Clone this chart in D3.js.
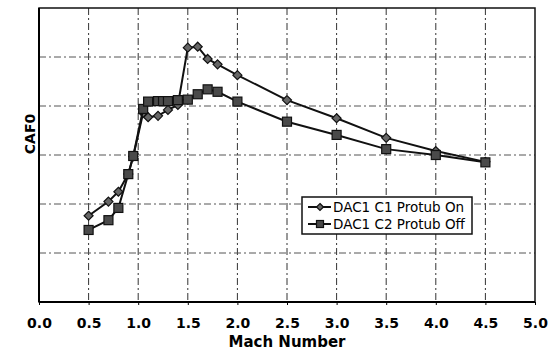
<!DOCTYPE html>
<html>
<head>
<meta charset="utf-8">
<script src="https://cdn.jsdelivr.net/npm/d3@7"></script>
<style>
  body { margin: 0; background: #fff; }
  svg { display: block; }
</style>
</head>
<body>
<svg id="chart" width="551" height="352"></svg>
<script>
// Mach numbers and CAF0 values (y axis has no labels, 0..6 arbitrary units)
let machOn = [0.5, 0.7, 0.8, 0.9, 0.95, 1.05, 1.1, 1.2, 1.3, 1.4, 1.5, 1.6, 1.7, 1.8, 2.0, 2.5, 3.0, 3.5, 4.0, 4.5];
let cafOn  = [1.76, 2.05, 2.25, 2.61, 2.97, 3.86, 3.77, 3.80, 3.92, 4.02, 5.19, 5.21, 4.96, 4.85, 4.63, 4.12, 3.75, 3.35, 3.08, 2.86];

let machOff = [0.5, 0.7, 0.8, 0.9, 0.95, 1.05, 1.1, 1.2, 1.25, 1.3, 1.4, 1.5, 1.6, 1.7, 1.8, 2.0, 2.5, 3.0, 3.5, 4.0, 4.5];
let cafOff  = [1.47, 1.67, 1.92, 2.61, 2.98, 3.94, 4.09, 4.10, 4.10, 4.10, 4.12, 4.13, 4.24, 4.34, 4.29, 4.09, 3.68, 3.41, 3.12, 3.00, 2.85];

let xTicks = [0, 0.5, 1, 1.5, 2, 2.5, 3, 3.5, 4, 4.5, 5];
let yGrid = [1, 2, 3, 4, 5];
let seriesNames = ["DAC1 C1 Protub On", "DAC1 C2 Protub Off"];

let svg = d3.select("#chart");
let plotLeft = 39, plotRight = 535, plotTop = 8, plotBottom = 302;

let x = d3.scaleLinear().domain([0, 5]).range([plotLeft, plotRight]);
let y = d3.scaleLinear().domain([0, 6]).range([plotBottom, plotTop]);

let font = "'DejaVu Sans', Verdana, sans-serif";

// grid lines (dash-dot)
svg.append("g")
  .selectAll("line.vgrid")
  .data(xTicks.filter(d => d > 0 && d < 5))
  .enter().append("line")
    .attr("class", "vgrid")
    .attr("x1", d => x(d)).attr("x2", d => x(d))
    .attr("y1", plotTop).attr("y2", plotBottom)
    .style("stroke", "#333")
    .style("stroke-width", 1)
    .style("stroke-dasharray", "7,3,2,3");

svg.append("g")
  .selectAll("line.hgrid")
  .data(yGrid)
  .enter().append("line")
    .attr("class", "hgrid")
    .attr("x1", plotLeft).attr("x2", plotRight)
    .attr("y1", d => y(d)).attr("y2", d => y(d))
    .style("stroke", "#555")
    .style("stroke-width", 1)
    .style("stroke-dasharray", "7,3,2,3");

// plot frame
svg.append("rect")
  .attr("x", plotLeft).attr("y", plotTop)
  .attr("width", plotRight - plotLeft).attr("height", plotBottom - plotTop)
  .style("fill", "none")
  .style("stroke", "#111")
  .style("stroke-width", 1.5);

svg.append("line")
  .attr("x1", plotLeft).attr("x2", plotLeft).attr("y1", plotTop).attr("y2", plotBottom)
  .style("stroke", "#000").style("stroke-width", 2);
svg.append("line")
  .attr("x1", plotLeft).attr("x2", plotRight).attr("y1", plotBottom).attr("y2", plotBottom)
  .style("stroke", "#000").style("stroke-width", 2);

// x axis labels
let xAxis = d3.axisBottom(x)
  .tickValues(xTicks)
  .tickSize(3)
  .tickFormat(d3.format(".1f"));

let gx = svg.append("g")
  .attr("transform", "translate(0," + plotBottom + ")")
  .call(xAxis);
gx.select(".domain").remove();
gx.selectAll("line").style("stroke", "#000");
gx.selectAll("text")
  .attr("y", 26)
  .attr("dy", 0)
  .style("font-family", font)
  .style("font-weight", "bold")
  .style("font-size", "14px")
  .style("fill", "#000");

svg.append("text")
  .attr("x", (plotLeft + plotRight) / 2)
  .attr("y", 347)
  .attr("text-anchor", "middle")
  .text("Mach Number")
  .style("font-family", font)
  .style("font-weight", "bold")
  .style("font-size", "15px");

svg.append("text")
  .attr("transform", "translate(35,134) rotate(-90)")
  .attr("text-anchor", "middle")
  .text("CAF0")
  .style("font-family", font)
  .style("font-weight", "bold")
  .style("font-size", "14px");

// lines
let line = d3.line()
  .x(d => x(d[0]))
  .y(d => y(d[1]));

let onData = machOn.map((m, i) => [m, cafOn[i]]);
let offData = machOff.map((m, i) => [m, cafOff[i]]);

function diamond(g, cx, cy, s) {
  g.append("path")
    .attr("d", "M" + cx + "," + (cy - s) + "L" + (cx + s) + "," + cy + "L" + cx + "," + (cy + s) + "L" + (cx - s) + "," + cy + "Z")
    .style("fill", "#666")
    .style("stroke", "#111")
    .style("stroke-width", 1.2);
}

function square(g, cx, cy, s) {
  g.append("rect")
    .attr("x", cx - s).attr("y", cy - s)
    .attr("width", 2 * s).attr("height", 2 * s)
    .style("fill", "#4a4a4a")
    .style("stroke", "#111")
    .style("stroke-width", 1.2);
}

svg.append("path")
  .datum(onData)
  .attr("d", line)
  .style("fill", "none")
  .style("stroke", "#111")
  .style("stroke-width", 2);

let gOn = svg.append("g");
onData.forEach(d => diamond(gOn, x(d[0]), y(d[1]), 4.5));

svg.append("path")
  .datum(offData)
  .attr("d", line)
  .style("fill", "none")
  .style("stroke", "#111")
  .style("stroke-width", 2);

let gOff = svg.append("g");
offData.forEach(d => square(gOff, x(d[0]), y(d[1]), 4.5));

// legend
let legend = svg.append("g");
legend.append("rect")
  .attr("x", 302).attr("y", 197)
  .attr("width", 170).attr("height", 37)
  .style("fill", "#fff")
  .style("stroke", "#111")
  .style("stroke-width", 1.5);

seriesNames.forEach(function(name, i) {
  let ly = 207 + i * 17;
  legend.append("line")
    .attr("x1", 308).attr("x2", 331)
    .attr("y1", ly).attr("y2", ly)
    .style("stroke", "#111")
    .style("stroke-width", 2);
  if (i == 0) diamond(legend, 320, ly, 3.5);
  else square(legend, 320, ly, 3.5);
  legend.append("text")
    .attr("x", 333)
    .attr("y", ly + 5)
    .text(name)
    .style("font-family", font)
    .style("font-size", "13.5px")
    .style("fill", "#000");
});
</script>
</body>
</html>
